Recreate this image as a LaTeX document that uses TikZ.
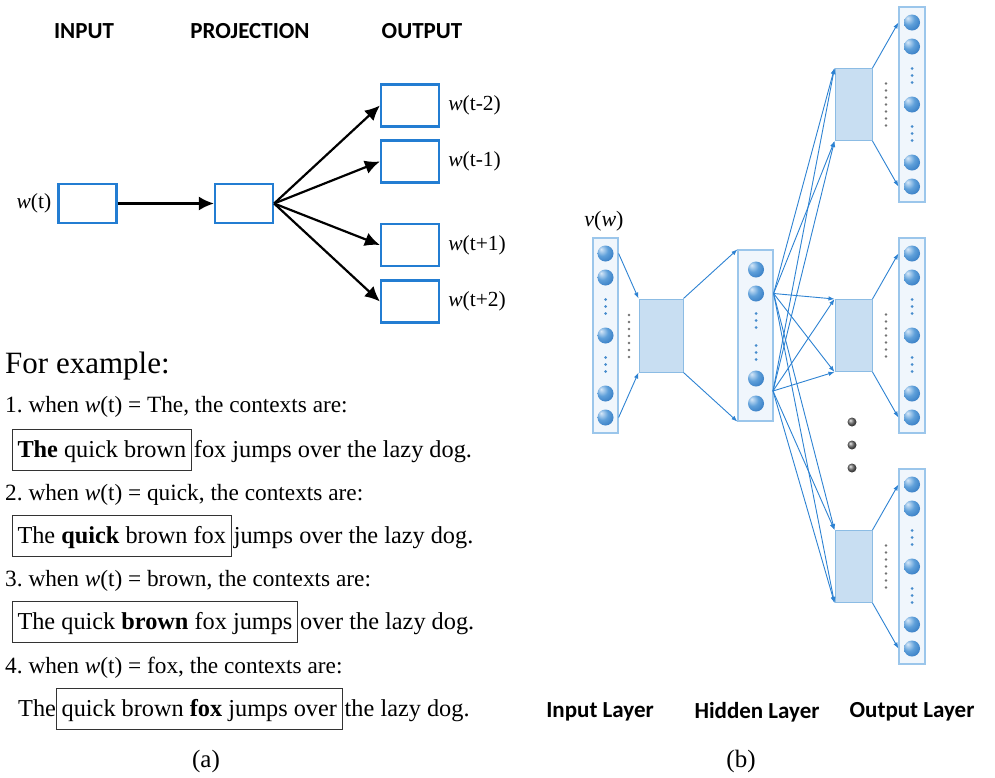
\documentclass[tikz,border=0pt]{standalone}
\usepackage{fontspec}
\setmainfont{Liberation Serif}
\newfontfamily\headfont{Carlito}
\usetikzlibrary{arrows.meta}
\usetikzlibrary{positioning}
\usepackage{xcolor}

\definecolor{boxblue}{RGB}{35,125,210}
\definecolor{linkblue}{RGB}{45,130,210}
\definecolor{layerfill}{RGB}{240,246,252}
\definecolor{layerdraw}{RGB}{155,198,235}
\definecolor{hidfill}{RGB}{200,222,242}
\definecolor{hiddraw}{RGB}{140,188,228}
\definecolor{dotblue}{RGB}{70,140,205}
\definecolor{nlight}{RGB}{215,232,248}
\definecolor{nmid}{RGB}{95,160,218}
\definecolor{ndark}{RGB}{40,112,188}
\pgfdeclareradialshading{neuronball}{\pgfpoint{-14bp}{14bp}}{color(0bp)=(nlight); color(18bp)=(nmid); color(42bp)=(ndark); color(70bp)=(ndark)}

\begin{document}
\begin{tikzpicture}[x=1pt, y=-1pt]
        % ================= 样式定义 =================
        \tikzset{
            % 左图:蓝框
            wbox/.style={rectangle, draw=boxblue, line width=2.2pt, minimum width=58pt, minimum height=40pt, inner sep=0pt},
            head/.style={font=\headfont\bfseries\fontsize{23}{27}\selectfont, inner sep=0pt},
            wlbl/.style={font=\fontsize{21.5}{25}\selectfont, inner sep=0pt},
            arr/.style={line width=2.2pt, black, -{Latex[length=15pt,width=14pt]}},
            % 例句
            txtline/.style={anchor=base west, inner sep=0pt, font=\fontsize{23.3}{27}\selectfont},
            ctx/.style={anchor=base west, draw=black!80, line width=1pt, inner xsep=5pt, inner ysep=4pt,
                        text height=24pt, text depth=9pt, font=\fontsize{24.3}{28}\selectfont},
            rest/.style={anchor=base west, inner xsep=2pt, inner ysep=0pt, font=\fontsize{24.3}{28}\selectfont},
            % 右图:网络
            layer/.style={rectangle, draw=layerdraw, fill=layerfill, line width=1.2pt, inner sep=0pt},
            hbox/.style={rectangle, draw=hiddraw, fill=hidfill, line width=1pt, inner sep=0pt},
            neuron/.style={circle, shading=neuronball, minimum size=16pt, inner sep=0pt},
            bigdot/.style={circle, shading=ball, ball color=black!55, minimum size=9pt, inner sep=0pt},
            link/.style={draw=linkblue, line width=0.9pt, -{Latex[length=6pt,width=4.5pt]}}
        }

        \useasboundingbox (0,0) rectangle (995,777);

        % ================= 左图 (a):Skip-gram 结构 =================
        \node[head] (hin) at (84,31) {INPUT};
        \node[head] (hproj) at (250,31) {PROJECTION};
        \node[head] (hout) at (422,31) {OUTPUT};

        \node[wbox, minimum height=39pt] (ibox) at (87.5,203.5) {};
        \node[wbox, minimum height=39pt] (pbox) at (244,203.5) {};
        \node[wlbl, left=6pt of ibox] (lwt) {\textit{w}(t)};

        \node[wbox, minimum height=42pt] (o1) at (410,105.5) {};
        \node[wbox, minimum height=42pt] (o2) at (410,161.5) {};
        \node[wbox, minimum height=42pt] (o3) at (410,245) {};
        \node[wbox, minimum height=42pt] (o4) at (410,301.5) {};
        \node[wlbl, right=8pt of o1] (l1) {\textit{w}(t-2)};
        \node[wlbl, right=8pt of o2] (l2) {\textit{w}(t-1)};
        \node[wlbl, right=8pt of o3] (l3) {\textit{w}(t+1)};
        \node[wlbl, right=8pt of o4] (l4) {\textit{w}(t+2)};

        \draw[arr] (ibox.east) -- (pbox.west);
        \foreach \o in {o1, o2, o3, o4} {
            \draw[arr] (pbox.east) -- (\o.west);
        }

        % ================= 例句 =================
        \node[anchor=base west, inner sep=0pt, font=\fontsize{31}{36}\selectfont] (fex) at (5,373) {For example:};

        \node[txtline] (t1) at (5,412) {1.\ when \textit{w}(t) = The, the contexts are:};
        \node[ctx] (c1) at (12,457) {\textbf{The} quick brown};
        \node[rest] (r1) at (c1.base east) {fox jumps over the lazy dog.};

        \node[txtline] (t2) at (5,500) {2.\ when \textit{w}(t) = quick, the contexts are:};
        \node[ctx] (c2) at (12,543) {The \textbf{quick} brown fox};
        \node[rest] (r2) at (c2.base east) {jumps over the lazy dog.};

        \node[txtline] (t3) at (5,586) {3.\ when \textit{w}(t) = brown, the contexts are:};
        \node[ctx] (c3) at (12,629) {The quick \textbf{brown} fox jumps};
        \node[rest] (r3) at (c3.base east) {over the lazy dog.};

        \node[txtline] (t4) at (5,673) {4.\ when \textit{w}(t) = fox, the contexts are:};
        \node[rest, inner xsep=0pt] (p4) at (18,716) {The};
        \node[ctx] (c4) at (p4.base east) {quick brown \textbf{fox} jumps over};
        \node[rest] (r4) at (c4.base east) {the lazy dog.};

        \node[font=\fontsize{25}{30}\selectfont, inner sep=0pt] (capa) at (206,761) {(a)};

        % ================= 右图 (b):网络结构 =================
        % 输入层
        \node[layer, minimum width=25pt, minimum height=195pt] (icol) at (605.5,335.5) {};
        \foreach \k/\dy in {1/-82, 2/-58, 3/0, 4/58, 5/82} {
            \node[neuron] (in\k) at (605.5,{335.5+(\dy)}) {};
        }
        \foreach \dy in {-29, 29} {
            \foreach \e in {-7, 0, 7} {
                \fill[dotblue] (605.5,{335.5+\dy+\e}) circle (1.5pt);
            }
        }
        \node[font=\fontsize{22}{26}\selectfont, inner sep=0pt] (vw) at (604,221) {\textit{v}(\textit{w})};

        % 投影
        \node[hbox, minimum width=44pt, minimum height=73pt] (ihid) at (661,335.5) {};
        \foreach \e in {-21, -14, ..., 21} {
            \fill[black!55] (629,{336+\e}) circle (1.4pt);
        }
        \draw[link] (icol.east |- in1) -- (ihid.north west);
        \draw[link] (icol.east |- in5) -- (ihid.south west);

        % 隐藏层
        \node[layer, minimum width=35pt, minimum height=171pt] (hcol) at (755.5,335.5) {};
        \foreach \k/\dy in {1/-66, 2/-42, 3/43, 4/68} {
            \node[neuron] (h\k) at (756,{335.5+(\dy)}) {};
        }
        \foreach \dy in {-15, 17} {
            \foreach \e in {-7, 0, 7} {
                \fill[dotblue] (756,{335.5+\dy+\e}) circle (1.5pt);
            }
        }
        \draw[link] (ihid.north east) -- (hcol.north west);
        \draw[link] (ihid.south east) -- (hcol.south west);

        \coordinate (hA) at (hcol.east |- h2);
        \coordinate (hB) at (773,391);

        % 输出层 (三组)
        \foreach \g/\cy in {1/104.5, 2/335.5, 3/566.5} {
            \node[layer, minimum width=26pt, minimum height=195pt] (ocol\g) at (912,\cy) {};
            \foreach \k/\dy in {1/-82, 2/-58, 3/0, 4/58, 5/82} {
                \node[neuron] (o\g-\k) at (912,{\cy+(\dy)}) {};
            }
            \foreach \dy in {-29, 29} {
                \foreach \e in {-7, 0, 7} {
                    \fill[dotblue] (912,{\cy+\dy+\e}) circle (1.5pt);
                }
            }
            \node[hbox, minimum width=37pt, minimum height=72pt] (obox\g) at (853.5,\cy) {};
            \foreach \e in {-21, -14, ..., 21} {
                \fill[black!55] (886,{\cy+\e}) circle (1.4pt);
            }
            \draw[link] (obox\g.north east) -- (ocol\g.west |- o\g-1);
            \draw[link] (obox\g.south east) -- (ocol\g.west |- o\g-5);
            \draw[link] (hA) -- (obox\g.north west);
            \draw[link] (hA) -- (obox\g.south west);
            \draw[link] (hB) -- (obox\g.north west);
            \draw[link] (hB) -- (obox\g.south west);
        }

        % 省略号
        \node[bigdot] (d1) at (852,422) {};
        \node[bigdot] (d2) at (852,445) {};
        \node[bigdot] (d3) at (852,468) {};

        \node[head] (linp) at (600,712) {Input Layer};
        \node[head] (lhid) at (757,712) {Hidden Layer};
        \node[head] (lout) at (912,712) {Output Layer};
        \node[font=\fontsize{25}{30}\selectfont, inner sep=0pt] (capb) at (741,761) {(b)};

    \end{tikzpicture}
\end{document}
